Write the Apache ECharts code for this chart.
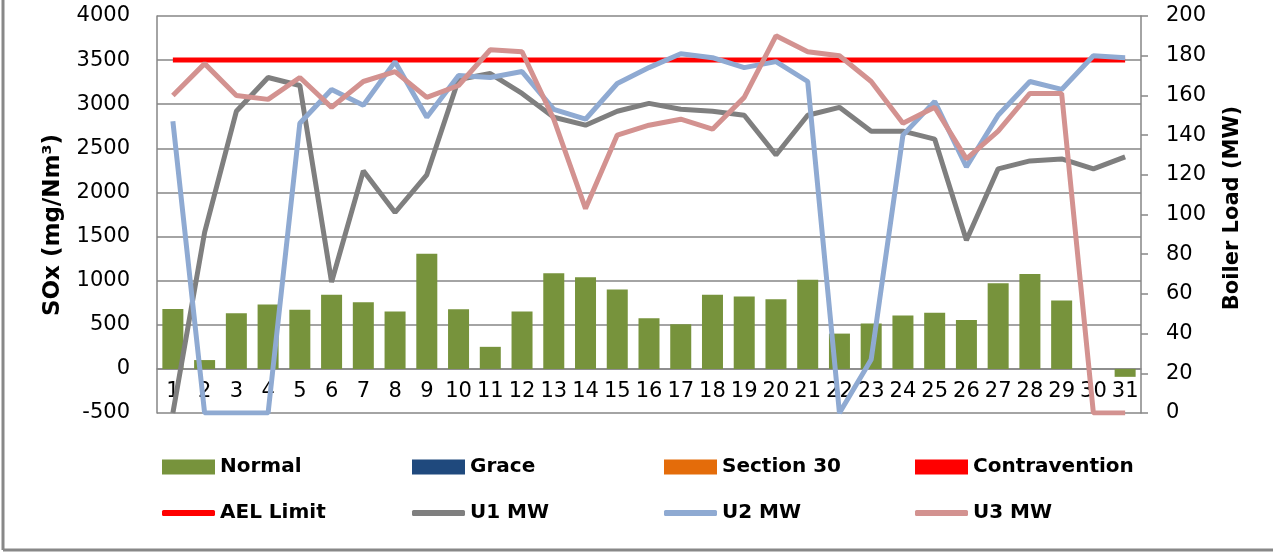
<!DOCTYPE html>
<html>
<head>
<meta charset="utf-8">
<script src="https://cdn.jsdelivr.net/npm/echarts@6/dist/echarts.min.js"></script>
<style>html,body{margin:0;padding:0;background:#fff}#c{width:1273px;height:552px}</style>
</head>
<body>
<div id="c"></div>
<script>
var days = ['1','2','3','4','5','6','7','8','9','10','11','12','13','14','15','16','17','18','19','20','21','22','23','24','25','26','27','28','29','30','31'];
var normal = [680,100,630,730,670,840,755,650,1305,675,250,650,1085,1040,900,575,505,840,820,790,1010,400,515,605,635,555,970,1075,775,null,-90];
var grace = [];
var section30 = [];
var contravention = [];
var aelLimit = [3500,3500,3500,3500,3500,3500,3500,3500,3500,3500,3500,3500,3500,3500,3500,3500,3500,3500,3500,3500,3500,3500,3500,3500,3500,3500,3500,3500,3500,3500,3500];
var u1 = [0,91,152,169,165,66,122,101,120,168,171,161,149,145,152,156,153,152,150,130,150,154,142,142,138,87,123,127,128,123,129];
var u2 = [147,0,0,0,146,163,155,177,149,170,169,172,153,148,166,174,181,179,174,177,167,0,27,140,157,124,150,167,163,180,179];
var u3 = [160,176,160,158,169,154,167,172,159,165,183,182,148,103,140,145,148,143,159,190,182,180,167,146,154,128,142,161,161,0,0];
var leftTicks = {min:-500, max:4000, interval:500};
var rightTicks = {min:0, max:200, interval:20};

var chart = echarts.init(document.getElementById('c'));
var gray = '#868686';
var F = 'DejaVu Sans';
var plotH = 397;
var zeroOffset = -plotH * (0 - leftTicks.min) / (leftTicks.max - leftTicks.min);
function leg(name, left, top, isLine) {
  return {
    data: [name], left: left, top: top, orient: 'horizontal',
    itemWidth: 53, itemHeight: isLine ? 6 : 15, itemGap: 0,
    icon: isLine ? 'roundRect' : 'rect',
    textStyle: {fontFamily: F, fontWeight: 'bold', fontSize: 20, color: '#000', padding: [0,0,0,0]},
    padding: 0, selectedMode: false
  };
}
var option = {
  animation: false,
  grid: {left: 157, right: 132, top: 16, bottom: 139, containLabel: false},
  legend: [
    leg('Normal', 162, 457, false), leg('Grace', 412, 457, false),
    leg('Section 30', 664, 457, false), leg('Contravention', 915, 457, false),
    leg('AEL Limit', 162, 503, true), leg('U1 MW', 412, 503, true),
    leg('U2 MW', 664, 503, true), leg('U3 MW', 915, 503, true)
  ],
  xAxis: {
    type: 'category', data: days, boundaryGap: true, position: 'bottom', offset: zeroOffset,
    axisLine: {onZero: false, lineStyle: {color: gray, width: 1.5}},
    axisTick: {show: false},
    axisLabel: {fontFamily: F, fontSize: 21, color: '#000', margin: 12, interval: 0}
  },
  yAxis: [
    {type: 'value', min: leftTicks.min, max: leftTicks.max, interval: leftTicks.interval,
     axisLine: {show: true, lineStyle: {color: gray, width: 1.5}},
     axisTick: {show: false},
     splitLine: {lineStyle: {color: gray, width: 1.5}},
     axisLabel: {fontFamily: F, fontSize: 21, color: '#000', margin: 27, formatter: function (v) { return String(v); }}},
    {type: 'value', min: rightTicks.min, max: rightTicks.max, interval: rightTicks.interval,
     axisLine: {show: true, lineStyle: {color: gray, width: 1.5}},
     axisTick: {show: true, inside: false, length: 7, lineStyle: {color: gray, width: 1.5}},
     splitLine: {show: false},
     axisLabel: {fontFamily: F, fontSize: 21, color: '#000', margin: 25, formatter: function (v) { return String(v); }}}
  ],
  series: [
    {name: 'Normal', type: 'bar', stack: 's', data: normal, barWidth: 21, itemStyle: {color: '#77933C'}},
    {name: 'Grace', type: 'bar', stack: 's', data: grace, itemStyle: {color: '#1F497D'}},
    {name: 'Section 30', type: 'bar', stack: 's', data: section30, itemStyle: {color: '#E46C0A'}},
    {name: 'Contravention', type: 'bar', stack: 's', data: contravention, itemStyle: {color: '#FF0000'}},
    {name: 'AEL Limit', type: 'line', data: aelLimit, yAxisIndex: 0, showSymbol: false, symbol: 'none',
     lineStyle: {color: '#FF0000', width: 5}, itemStyle: {color: '#FF0000'}},
    {name: 'U1 MW', type: 'line', data: u1, yAxisIndex: 1, symbol: 'none',
     lineStyle: {color: '#7F7F7F', width: 5}, itemStyle: {color: '#7F7F7F'}},
    {name: 'U2 MW', type: 'line', data: u2, yAxisIndex: 1, symbol: 'none',
     lineStyle: {color: '#8FAAD2', width: 5}, itemStyle: {color: '#8FAAD2'}},
    {name: 'U3 MW', type: 'line', data: u3, yAxisIndex: 1, symbol: 'none',
     lineStyle: {color: '#D39290', width: 5}, itemStyle: {color: '#D39290'}}
  ],
  graphic: [
    {type: 'line', shape: {x1: 3, y1: 0, x2: 3, y2: 550}, style: {stroke: '#888', lineWidth: 3}},
    {type: 'line', shape: {x1: 3, y1: 550, x2: 1273, y2: 550}, style: {stroke: '#888', lineWidth: 3}},
    {type: 'text', x: 53, y: 225, rotation: Math.PI / 2,
     style: {text: 'SOx (mg/Nm³)', font: 'bold 23px "DejaVu Sans"', fill: '#000', textAlign: 'center', textVerticalAlign: 'middle'}},
    {type: 'text', x: 1233, y: 208, rotation: Math.PI / 2,
     style: {text: 'Boiler Load (MW)', font: 'bold 21px "DejaVu Sans"', fill: '#000', textAlign: 'center', textVerticalAlign: 'middle'}}
  ]
};
chart.setOption(option);
</script>
</body>
</html>
